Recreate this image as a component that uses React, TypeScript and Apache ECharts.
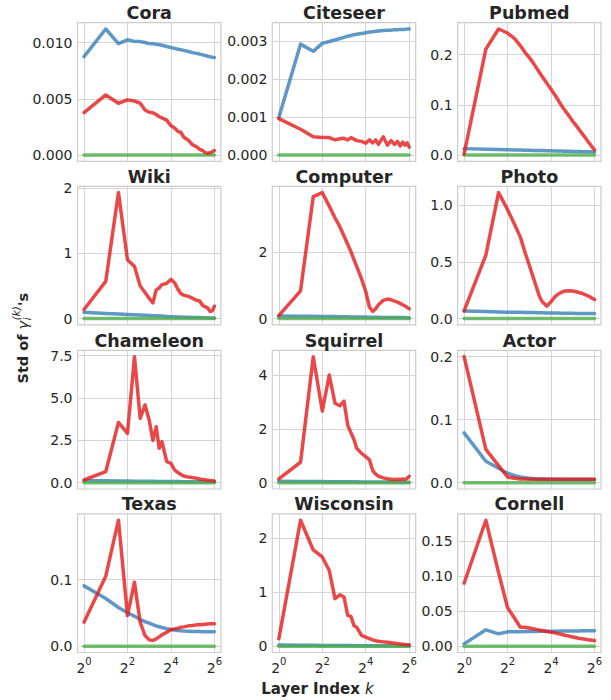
import React, { useEffect, useRef } from 'react';
import * as echarts from 'echarts';

// Layer indices k at which the curves are read
const LAYERS = [1, 2, 3, 4, 5, 6, 7, 8, 9, 10, 11, 12, 14, 16, 18, 20, 22, 24, 28, 32, 36, 40, 44, 48, 52, 56, 60, 64];

const X_TICKS = [1, 4, 16, 64];

const GREEN_FLAT = [0, 0, 0, 0, 0, 0, 0, 0, 0, 0, 0, 0, 0, 0, 0, 0, 0, 0, 0, 0, 0, 0, 0, 0, 0, 0, 0, 0];

const CORA_BLUE = [0.00875, 0.0112, 0.0099, 0.01024, 0.0101, 0.01008, 0.01, 0.0099, 0.00988, 0.00985, 0.0098, 0.00975, 0.00965, 0.00955, 0.00948, 0.0094, 0.00935, 0.0093, 0.0092, 0.0091, 0.00903, 0.00897, 0.0089, 0.00884, 0.00878, 0.00873, 0.00869, 0.00866];
const CORA_RED = [0.00377, 0.00534, 0.0046, 0.0049, 0.0048, 0.0046, 0.004, 0.0038, 0.00375, 0.0036, 0.0034, 0.0033, 0.0031, 0.0026, 0.0024, 0.0021, 0.002, 0.0016, 0.0013, 0.0009, 0.00075, 0.0005, 0.0004, 0.0002, 0.00015, 0.0002, 0.0003, 0.0004];

const CITESEER_BLUE = [0.00099, 0.00293, 0.00274, 0.00295, 0.003, 0.00304, 0.00308, 0.00311, 0.00314, 0.00316, 0.00318, 0.00319, 0.00321, 0.00323, 0.00325, 0.00326, 0.00327, 0.00328, 0.00329, 0.0033, 0.0033, 0.00331, 0.00331, 0.00332, 0.00332, 0.00332, 0.00333, 0.00333];
const CITESEER_RED = [0.00096, 0.00068, 0.00048, 0.00046, 0.00046, 0.0004, 0.00043, 0.00044, 0.0004, 0.00046, 0.00042, 0.00038, 0.00036, 0.00031, 0.0004, 0.00032, 0.0004, 0.00028, 0.00048, 0.00026, 0.00038, 0.00028, 0.00036, 0.00024, 0.00034, 0.00026, 0.00032, 0.00021];

const PUBMED_BLUE = [0.0127, 0.0116, 0.011, 0.0105, 0.0102, 0.0099, 0.0097, 0.0094, 0.0092, 0.0091, 0.0089, 0.0088, 0.0085, 0.0083, 0.0082, 0.008, 0.0078, 0.0077, 0.0074, 0.0072, 0.007, 0.0069, 0.0067, 0.0066, 0.0065, 0.0063, 0.0062, 0.0061];
const PUBMED_RED = [0.002, 0.211, 0.251, 0.243, 0.232, 0.218, 0.204, 0.194, 0.184, 0.174, 0.165, 0.157, 0.143, 0.131, 0.12, 0.11, 0.1, 0.092, 0.079, 0.067, 0.058, 0.049, 0.041, 0.034, 0.027, 0.021, 0.015, 0.01];

const WIKI_BLUE = [0.096, 0.08, 0.07, 0.062, 0.058, 0.054, 0.05, 0.047, 0.045, 0.043, 0.04, 0.038, 0.034, 0.03, 0.028, 0.026, 0.024, 0.022, 0.02, 0.018, 0.016, 0.015, 0.014, 0.013, 0.012, 0.011, 0.01, 0.01];
const WIKI_RED = [0.14, 0.57, 1.93, 0.9, 0.8, 0.5, 0.4, 0.31, 0.24, 0.44, 0.47, 0.52, 0.54, 0.6, 0.55, 0.45, 0.38, 0.36, 0.34, 0.31, 0.28, 0.27, 0.2, 0.18, 0.16, 0.11, 0.12, 0.19];

const COMPUTER_BLUE = [0.08, 0.072, 0.068, 0.065, 0.062, 0.06, 0.058, 0.056, 0.054, 0.052, 0.05, 0.049, 0.047, 0.045, 0.043, 0.042, 0.04, 0.039, 0.037, 0.035, 0.034, 0.033, 0.032, 0.031, 0.03, 0.03, 0.029, 0.028];
const COMPUTER_RED = [0.09, 0.84, 3.69, 3.81, 3.4, 3.05, 2.78, 2.5, 2.25, 2.02, 1.78, 1.58, 1.2, 0.82, 0.35, 0.22, 0.3, 0.42, 0.55, 0.59, 0.57, 0.53, 0.5, 0.46, 0.42, 0.38, 0.34, 0.3];

const PHOTO_BLUE = [0.068, 0.062, 0.059, 0.057, 0.056, 0.055, 0.054, 0.053, 0.053, 0.052, 0.052, 0.051, 0.05, 0.05, 0.049, 0.049, 0.048, 0.048, 0.047, 0.047, 0.046, 0.046, 0.045, 0.045, 0.045, 0.044, 0.044, 0.044];
const PHOTO_RED = [0.068, 0.56, 1.11, 0.96, 0.83, 0.72, 0.58, 0.47, 0.37, 0.28, 0.2, 0.15, 0.11, 0.15, 0.19, 0.215, 0.23, 0.24, 0.245, 0.243, 0.236, 0.228, 0.22, 0.21, 0.2, 0.19, 0.178, 0.168];

const CHAMELEON_BLUE = [0.12, 0.11, 0.1, 0.095, 0.09, 0.088, 0.085, 0.083, 0.08, 0.078, 0.076, 0.074, 0.071, 0.068, 0.066, 0.064, 0.062, 0.06, 0.057, 0.054, 0.052, 0.05, 0.048, 0.047, 0.045, 0.044, 0.043, 0.042];
const CHAMELEON_RED = [0.16, 0.65, 3.56, 2.91, 7.44, 3.8, 4.59, 3.7, 2.5, 3.3, 2.03, 2.42, 1.24, 1.14, 0.75, 0.6, 0.48, 0.4, 0.33, 0.3, 0.26, 0.22, 0.19, 0.17, 0.15, 0.13, 0.12, 0.1];

const SQUIRREL_BLUE = [0.05, 0.045, 0.042, 0.04, 0.038, 0.037, 0.036, 0.035, 0.034, 0.033, 0.032, 0.031, 0.03, 0.029, 0.028, 0.027, 0.026, 0.026, 0.025, 0.024, 0.023, 0.023, 0.022, 0.022, 0.021, 0.021, 0.02, 0.02];
const SQUIRREL_RED = [0.14, 0.76, 4.68, 2.66, 4.0, 2.95, 2.86, 3.03, 2.14, 1.85, 1.6, 1.28, 1.09, 0.97, 0.85, 0.45, 0.32, 0.24, 0.18, 0.15, 0.13, 0.12, 0.13, 0.12, 0.14, 0.12, 0.16, 0.24];

const ACTOR_BLUE = [0.079, 0.034, 0.023, 0.015, 0.011, 0.009, 0.008, 0.007, 0.0065, 0.006, 0.006, 0.0058, 0.0056, 0.0055, 0.0054, 0.0053, 0.0052, 0.0052, 0.0051, 0.005, 0.005, 0.005, 0.005, 0.0049, 0.0049, 0.0049, 0.0049, 0.0049];
const ACTOR_RED = [0.2, 0.053, 0.027, 0.009, 0.007, 0.006, 0.0058, 0.0056, 0.0055, 0.0055, 0.0055, 0.0055, 0.0055, 0.0055, 0.0055, 0.0055, 0.0055, 0.0055, 0.0055, 0.0055, 0.0055, 0.0055, 0.0055, 0.0055, 0.0055, 0.0055, 0.0055, 0.0055];

const TEXAS_BLUE = [0.0905, 0.0715, 0.058, 0.05, 0.045, 0.04, 0.037, 0.0345, 0.0325, 0.0305, 0.0292, 0.028, 0.0262, 0.025, 0.0242, 0.0236, 0.0231, 0.0228, 0.0225, 0.0222, 0.022, 0.0219, 0.0218, 0.0217, 0.0217, 0.0216, 0.0216, 0.0216];
const TEXAS_RED = [0.036, 0.105, 0.189, 0.046, 0.096, 0.036, 0.016, 0.0095, 0.0085, 0.011, 0.014, 0.017, 0.021, 0.0246, 0.026, 0.027, 0.0285, 0.029, 0.0305, 0.031, 0.032, 0.0322, 0.0327, 0.033, 0.0333, 0.0335, 0.0336, 0.0337];

const WISCONSIN_BLUE = [0.02, 0.018, 0.016, 0.015, 0.014, 0.013, 0.012, 0.012, 0.011, 0.011, 0.01, 0.01, 0.0095, 0.009, 0.0085, 0.008, 0.0078, 0.0075, 0.007, 0.0068, 0.0065, 0.0062, 0.006, 0.0058, 0.0056, 0.0054, 0.0052, 0.005];
const WISCONSIN_RED = [0.136, 2.33, 1.78, 1.65, 1.4, 0.88, 0.95, 0.91, 0.57, 0.55, 0.38, 0.35, 0.2, 0.167, 0.14, 0.117, 0.1, 0.09, 0.08, 0.072, 0.063, 0.055, 0.048, 0.043, 0.037, 0.032, 0.028, 0.025];

const CORNELL_BLUE = [0.0033, 0.0234, 0.0177, 0.0205, 0.0205, 0.0208, 0.021, 0.021, 0.021, 0.0211, 0.0212, 0.0212, 0.0213, 0.0214, 0.0215, 0.0215, 0.0216, 0.0216, 0.0217, 0.0217, 0.0218, 0.0218, 0.0219, 0.0219, 0.022, 0.022, 0.022, 0.022];
const CORNELL_RED = [0.09, 0.18, 0.105, 0.055, 0.04, 0.027, 0.027, 0.026, 0.025, 0.024, 0.023, 0.0225, 0.021, 0.02, 0.019, 0.018, 0.017, 0.016, 0.0145, 0.0132, 0.012, 0.011, 0.0105, 0.0098, 0.0092, 0.0088, 0.0084, 0.0081];

type Panel = { title: string; blue: number[]; red: number[]; green: number[]; yTicks: number[]; dec: number };

const PANELS: Panel[] = [
  { title: 'Cora', blue: CORA_BLUE, red: CORA_RED, green: GREEN_FLAT, yTicks: [0, 0.005, 0.01], dec: 3 },
  { title: 'Citeseer', blue: CITESEER_BLUE, red: CITESEER_RED, green: GREEN_FLAT, yTicks: [0, 0.001, 0.002, 0.003], dec: 3 },
  { title: 'Pubmed', blue: PUBMED_BLUE, red: PUBMED_RED, green: GREEN_FLAT, yTicks: [0, 0.1, 0.2], dec: 1 },
  { title: 'Wiki', blue: WIKI_BLUE, red: WIKI_RED, green: GREEN_FLAT, yTicks: [0, 1, 2], dec: 0 },
  { title: 'Computer', blue: COMPUTER_BLUE, red: COMPUTER_RED, green: GREEN_FLAT, yTicks: [0, 2], dec: 0 },
  { title: 'Photo', blue: PHOTO_BLUE, red: PHOTO_RED, green: GREEN_FLAT, yTicks: [0, 0.5, 1], dec: 1 },
  { title: 'Chameleon', blue: CHAMELEON_BLUE, red: CHAMELEON_RED, green: GREEN_FLAT, yTicks: [0, 2.5, 5, 7.5], dec: 1 },
  { title: 'Squirrel', blue: SQUIRREL_BLUE, red: SQUIRREL_RED, green: GREEN_FLAT, yTicks: [0, 2, 4], dec: 0 },
  { title: 'Actor', blue: ACTOR_BLUE, red: ACTOR_RED, green: GREEN_FLAT, yTicks: [0, 0.1, 0.2], dec: 1 },
  { title: 'Texas', blue: TEXAS_BLUE, red: TEXAS_RED, green: GREEN_FLAT, yTicks: [0, 0.1], dec: 1 },
  { title: 'Wisconsin', blue: WISCONSIN_BLUE, red: WISCONSIN_RED, green: GREEN_FLAT, yTicks: [0, 1, 2], dec: 0 },
  { title: 'Cornell', blue: CORNELL_BLUE, red: CORNELL_RED, green: GREEN_FLAT, yTicks: [0, 0.05, 0.1, 0.15], dec: 2 },
];

const COL_LEFT = [77.5, 272.3, 457.6];
const ROW_TOP = [22.7, 186.3, 350.4, 513.9];
const PANEL_W = 143.4;
const PANEL_H = 138.6;

const FONT = "'DejaVu Sans', sans-serif";
const TEXT_COLOR = '#262626';
const GRID_COLOR = '#d5d5d5';
const SERIES_STYLE = [
  { key: 'blue', color: '#377eb8', z: 2 },
  { key: 'green', color: '#4daf4a', z: 3 },
  { key: 'red', color: '#e41a1c', z: 4 },
] as const;

function buildOption() {
  const grid: any[] = [];
  const xAxis: any[] = [];
  const yAxis: any[] = [];
  const series: any[] = [];
  const graphic: any[] = [];

  PANELS.forEach((p, i) => {
    const row = Math.floor(i / 3);
    const col = i % 3;
    const all = [...p.blue, ...p.red, ...p.green];
    const lo = Math.min(...all);
    const hi = Math.max(...all);
    const pad = (hi - lo) * 0.05;

    grid.push({
      left: COL_LEFT[col],
      top: ROW_TOP[row],
      width: PANEL_W,
      height: PANEL_H,
      show: true,
      borderColor: '#cccccc',
      borderWidth: 1.2,
      backgroundColor: '#ffffff',
      containLabel: false,
    });

    xAxis.push({
      type: 'log',
      logBase: 2,
      gridIndex: i,
      min: Math.pow(2, -0.3),
      max: Math.pow(2, 6.3),
      axisLine: { show: false },
      axisTick: { show: false, customValues: X_TICKS },
      axisLabel: {
        show: row === 3,
        customValues: X_TICKS,
        margin: 4,
        formatter: (v: number) => `{b|2}{s|${Math.round(Math.log2(v))}}`,
        rich: {
          b: { fontFamily: FONT, fontSize: 14, color: TEXT_COLOR, lineHeight: 18, verticalAlign: 'bottom' },
          s: { fontFamily: FONT, fontSize: 10, color: TEXT_COLOR, lineHeight: 18, verticalAlign: 'top' },
        },
      },
      splitLine: { show: true, lineStyle: { color: GRID_COLOR, width: 1 } },
    });

    yAxis.push({
      type: 'value',
      gridIndex: i,
      min: lo - pad,
      max: hi + pad,
      axisLine: { show: false },
      axisTick: { show: false, customValues: p.yTicks },
      axisLabel: {
        show: true,
        customValues: p.yTicks,
        margin: 5,
        fontFamily: FONT,
        fontSize: 14,
        color: TEXT_COLOR,
        formatter: (v: number) => v.toFixed(p.dec),
      },
      splitLine: { show: true, lineStyle: { color: GRID_COLOR, width: 1 } },
    });

    SERIES_STYLE.forEach((s) => {
      const values = (p as any)[s.key] as number[];
      series.push({
        type: 'line',
        name: `${p.title}-${s.key}`,
        xAxisIndex: i,
        yAxisIndex: i,
        data: LAYERS.map((k, j) => [k, values[j]]),
        showSymbol: false,
        symbol: 'none',
        silent: true,
        z: s.z,
        lineStyle: { color: s.color, width: 3.5, opacity: 0.8, cap: 'round', join: 'round' },
      });
    });

    graphic.push({
      type: 'text',
      x: COL_LEFT[col] + PANEL_W / 2,
      y: ROW_TOP[row] - 9.8,
      silent: true,
      style: {
        text: p.title,
        fontFamily: FONT,
        fontSize: 17.5,
        fontWeight: 'bold',
        fill: TEXT_COLOR,
        align: 'center',
        verticalAlign: 'middle',
      },
    });
  });

  // y-axis label: Std of γ_i^(k)'s (rotated)
  const ys = 14.5;
  const w1 = 3.732 * ys;
  const wg = 0.6 * ys;
  const small = 0.7 * ys;
  graphic.push({
    type: 'group',
    x: 23,
    y: 383.5,
    rotation: Math.PI / 2,
    silent: true,
    children: [
      { type: 'text', x: 0, y: 0, style: { text: 'Std of ', fontFamily: FONT, fontSize: ys, fontWeight: 'bold', fill: TEXT_COLOR, align: 'left', verticalAlign: 'middle' } },
      { type: 'text', x: w1, y: 0, style: { text: 'γ', fontFamily: FONT, fontSize: ys, fontStyle: 'italic', fill: TEXT_COLOR, align: 'left', verticalAlign: 'middle' } },
      { type: 'text', x: w1 + wg + 0.5, y: -6.5, style: { text: '(k)', fontFamily: FONT, fontSize: small, fontStyle: 'italic', fill: TEXT_COLOR, align: 'left', verticalAlign: 'middle' } },
      { type: 'text', x: w1 + wg + 0.5, y: 4.5, style: { text: 'i', fontFamily: FONT, fontSize: small, fontStyle: 'italic', fill: TEXT_COLOR, align: 'left', verticalAlign: 'middle' } },
      { type: 'text', x: w1 + wg + 1.36 * small + 1, y: 0, style: { text: "'s", fontFamily: FONT, fontSize: ys, fontWeight: 'bold', fill: TEXT_COLOR, align: 'left', verticalAlign: 'middle' } },
    ],
  });

  // x-axis label
  graphic.push({
    type: 'text',
    x: 317.5,
    y: 688.5,
    silent: true,
    style: {
      text: '{b|Layer Index }{i|k}',
      align: 'center',
      verticalAlign: 'middle',
      rich: {
        b: { fontFamily: FONT, fontSize: 15, fontWeight: 'bold', fill: TEXT_COLOR },
        i: { fontFamily: FONT, fontSize: 15, fontStyle: 'italic', fill: TEXT_COLOR },
      },
    },
  });

  return {
    animation: false,
    backgroundColor: '#ffffff',
    grid,
    xAxis,
    yAxis,
    series,
    graphic,
  };
}

export default function App() {
  const ref = useRef<HTMLDivElement>(null);
  useEffect(() => {
    document.body.style.margin = '0';
    const chart = echarts.init(ref.current as HTMLDivElement, null, { renderer: 'svg' });
    chart.setOption(buildOption() as any);
    return () => chart.dispose();
  }, []);
  return <div ref={ref} style={{ width: 611, height: 700 }} />;
}
